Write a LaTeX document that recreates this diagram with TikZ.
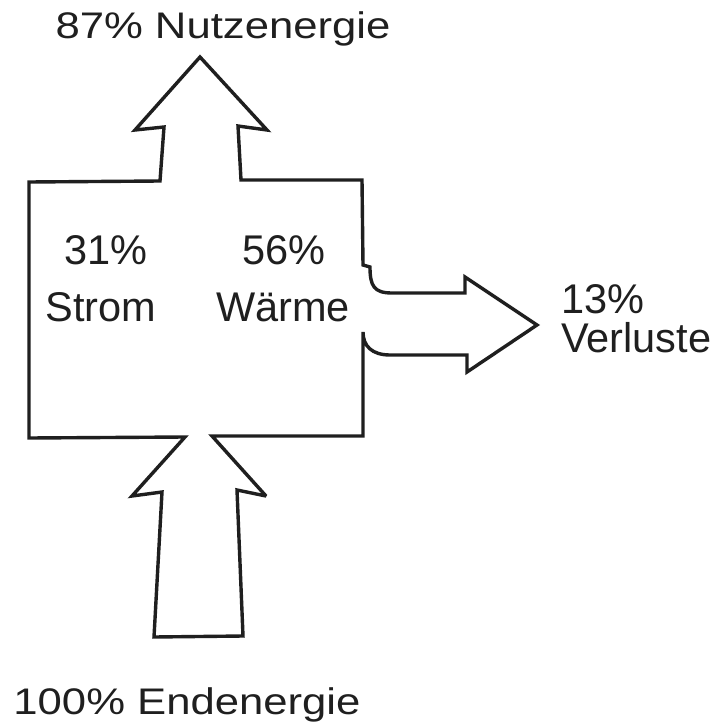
\documentclass[tikz,border=0pt]{standalone}
\usepackage{fontspec}
\setmainfont{Liberation Sans}
\begin{document}
\begin{tikzpicture}[x=1pt,y=-1pt,
  outline/.style={draw=black!88, line width=3.4pt, line join=miter, miter limit=3},
  biglabel/.style={anchor=base, inner sep=0pt, text=black!88, font=\fontsize{37}{44}\selectfont},
  label/.style={anchor=base, inner sep=0pt, text=black!88, font=\fontsize{41.5}{48}\selectfont},
  sidelabel/.style={anchor=base west, inner sep=0pt, text=black!88, font=\fontsize{41.5}{48}\selectfont}]
\useasboundingbox[fill=white] (0,0) rectangle (720,725);

\draw[outline] (29,182) -- (160,181) -- (164,127) -- (135,130) -- (200,57)
  -- (267,130) -- (238,126) -- (241,180) -- (362,180) -- (363,265) -- (370,267)
  .. controls (370,286) and (374,293) .. (392,293) -- (465,293) -- (465,277)
  -- (537,325) -- (467,372) -- (467,355) -- (390,355)
  .. controls (372,355) and (363,346) .. (363,332)
  -- (363,436) -- (212,436) -- (266,496) -- (237,490) -- (243,636)
  -- (154,637) -- (162,492) -- (132,496) -- (185,437) -- (29,438) -- cycle;

\node[biglabel] (nutz) at (223,39) {\scalebox{1.18}[1]{87\% Nutzenergie}};
\node[biglabel] (end) at (187,714) {\scalebox{1.18}[1]{100\% Endenergie}};
\node[label] (s1) at (106,264) {31\%};
\node[label] (s2) at (101,321) {Strom};
\node[label] (w1) at (284,264) {56\%};
\node[label] (w2) at (283,321) {Wärme};
\node[sidelabel] (v1) at (561,313) {13\%};
\node[sidelabel] (v2) at (561,352) {Verluste};
\end{tikzpicture}
\end{document}
